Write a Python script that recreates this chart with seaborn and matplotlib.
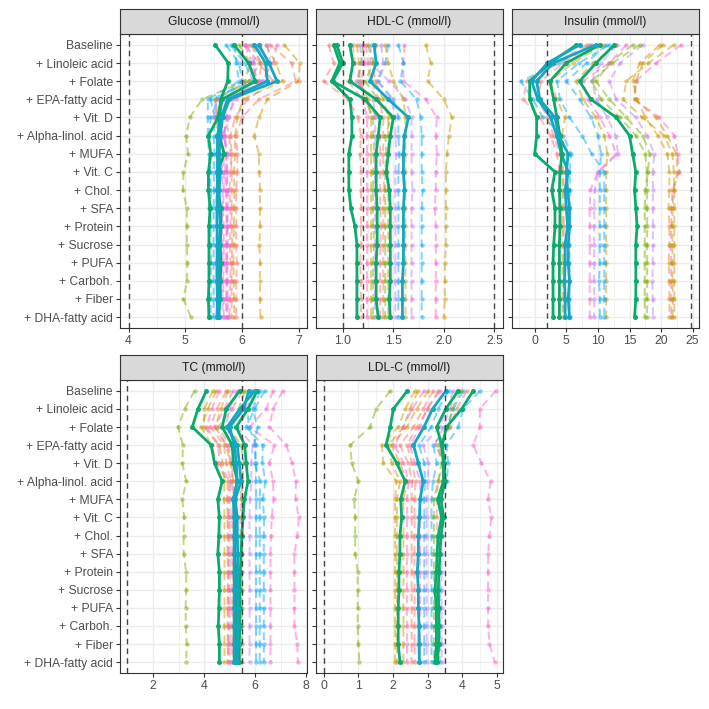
"""Spaghetti plot of five blood markers over cumulative diet additions."""

import matplotlib

matplotlib.use("Agg")
import matplotlib.pyplot as plt
import pandas as pd
import seaborn as sns

ROWS = ["Baseline", "+ Linoleic acid", "+ Folate", "+ EPA-fatty acid", "+ Vit. D",
        "+ Alpha-linol. acid", "+ MUFA", "+ Vit. C", "+ Chol.", "+ SFA", "+ Protein",
        "+ Sucrose", "+ PUFA", "+ Carboh.", "+ Fiber", "+ DHA-fatty acid"]

HUE = ["#F8766D", "#CD9600", "#7CAE00", "#00BE67", "#00BFC4", "#00A9FF", "#C77CFF", "#FF61CC"]
HL_GREEN = "#0AAA6C"
HL_TEAL = "#13A7C2"

# ---- Glucose
GLUCOSE_BG = [
    [5.95, 6.15, 6.05, 5.30, 5.08, 5.02, 5.05, 4.97, 4.96, 5.03, 5.03, 5.03, 5.04, 5.03, 4.97, 5.10],
    [6.75, 7.02, 7.00, 6.45, 6.30, 6.22, 6.30, 6.31, 6.32, 6.32, 6.32, 6.31, 6.32, 6.32, 6.32, 6.33],
    [6.05, 6.30, 6.55, 6.10, 5.88, 5.80, 5.82, 5.80, 5.78, 5.80, 5.80, 5.79, 5.80, 5.80, 5.79, 5.78],
    [6.62, 6.55, 6.35, 5.90, 5.72, 5.70, 5.73, 5.70, 5.72, 5.72, 5.73, 5.72, 5.71, 5.72, 5.72, 5.72],
    [6.10, 6.22, 6.12, 5.55, 5.55, 5.62, 5.60, 5.62, 5.60, 5.62, 5.63, 5.62, 5.62, 5.63, 5.62, 5.62],
    [5.72, 5.95, 6.00, 5.58, 5.45, 5.42, 5.45, 5.44, 5.45, 5.46, 5.45, 5.45, 5.46, 5.45, 5.45, 5.45],
    [5.88, 5.90, 5.95, 5.40, 5.40, 5.40, 5.42, 5.43, 5.42, 5.42, 5.42, 5.42, 5.42, 5.42, 5.42, 5.42],
    [6.42, 6.60, 6.72, 6.02, 5.92, 5.88, 5.88, 5.86, 5.87, 5.86, 5.86, 5.86, 5.85, 5.86, 5.86, 5.87],
    [6.50, 6.88, 6.95, 6.30, 6.00, 5.90, 5.92, 5.92, 5.90, 5.90, 5.90, 5.90, 5.91, 5.90, 5.90, 5.90],
    [6.30, 6.40, 6.45, 5.80, 5.65, 5.66, 5.68, 5.68, 5.68, 5.67, 5.68, 5.68, 5.68, 5.67, 5.68, 5.68],
    [6.20, 6.32, 6.12, 5.52, 5.58, 5.55, 5.58, 5.56, 5.55, 5.56, 5.56, 5.55, 5.56, 5.56, 5.56, 5.56],
    [6.32, 6.20, 6.25, 5.70, 5.75, 5.68, 5.75, 5.73, 5.76, 5.75, 5.75, 5.75, 5.74, 5.75, 5.75, 5.75],
    [6.15, 6.35, 6.30, 5.75, 5.70, 5.78, 5.80, 5.82, 5.82, 5.82, 5.82, 5.83, 5.82, 5.82, 5.82, 5.82],
    [5.80, 6.05, 6.20, 5.45, 5.52, 5.50, 5.52, 5.50, 5.51, 5.50, 5.50, 5.50, 5.50, 5.50, 5.50, 5.50],
    [6.45, 6.50, 6.38, 5.85, 5.78, 5.65, 5.66, 5.65, 5.66, 5.66, 5.65, 5.66, 5.66, 5.65, 5.66, 5.66],
    [6.05, 6.18, 6.28, 5.60, 5.50, 5.70, 5.72, 5.74, 5.73, 5.74, 5.74, 5.74, 5.74, 5.74, 5.74, 5.74],
]
GLUCOSE_BG_COLORS = [2, 1, 0, 7, 6, 5, 5, 1, 0, 7, 2, 6, 0, 5, 6, 7]
GLUCOSE_HL = [
    [5.53, 5.76, 5.75, 5.63, 5.58, 5.41, 5.45, 5.41, 5.41, 5.44, 5.42, 5.42, 5.42, 5.42, 5.41, 5.42],
    [5.86, 6.12, 6.24, 5.65, 5.60, 5.60, 5.69, 5.57, 5.58, 5.63, 5.63, 5.62, 5.63, 5.62, 5.62, 5.58],
    [6.22, 6.42, 6.45, 5.75, 5.63, 5.57, 5.57, 5.57, 5.57, 5.56, 5.56, 5.57, 5.56, 5.56, 5.57, 5.56],
    [6.30, 6.48, 6.62, 5.78, 5.66, 5.62, 5.60, 5.62, 5.60, 5.60, 5.62, 5.60, 5.60, 5.60, 5.60, 5.60],
]
GLUCOSE_HL_COLORS = [HL_GREEN, HL_GREEN, HL_TEAL, HL_TEAL]
GLUCOSE_REFS = [4.0, 6.0]

# ---- HDL-C
HDL_BG = [
    [0.86, 0.91, 0.81, 1.05, 1.15, 1.18, 1.17, 1.18, 1.18, 1.18, 1.18, 1.18, 1.17, 1.18, 1.18, 1.18],
    [1.82, 1.87, 1.84, 2.00, 2.08, 2.05, 2.03, 2.02, 2.02, 2.02, 2.02, 2.02, 2.01, 2.01, 2.01, 2.00],
    [1.61, 1.60, 1.60, 1.82, 1.93, 1.92, 1.93, 1.92, 1.92, 1.91, 1.92, 1.92, 1.92, 1.92, 1.92, 1.92],
    [1.55, 1.60, 1.57, 1.73, 1.77, 1.78, 1.78, 1.78, 1.79, 1.78, 1.78, 1.78, 1.78, 1.78, 1.78, 1.78],
    [1.45, 1.42, 1.35, 1.50, 1.55, 1.55, 1.56, 1.55, 1.55, 1.55, 1.55, 1.55, 1.55, 1.55, 1.55, 1.55],
    [1.28, 1.27, 1.46, 1.62, 1.68, 1.68, 1.68, 1.68, 1.69, 1.68, 1.68, 1.68, 1.68, 1.68, 1.68, 1.68],
    [1.14, 1.16, 1.17, 1.25, 1.28, 1.28, 1.28, 1.28, 1.28, 1.28, 1.28, 1.28, 1.28, 1.28, 1.28, 1.28],
    [1.20, 1.18, 1.15, 1.22, 1.30, 1.30, 1.31, 1.30, 1.30, 1.30, 1.30, 1.31, 1.30, 1.30, 1.30, 1.30],
    [1.23, 1.25, 1.28, 1.36, 1.40, 1.40, 1.40, 1.40, 1.41, 1.40, 1.40, 1.40, 1.40, 1.40, 1.40, 1.40],
    [1.33, 1.30, 1.32, 1.40, 1.45, 1.45, 1.45, 1.44, 1.45, 1.45, 1.45, 1.45, 1.45, 1.45, 1.45, 1.45],
    [1.20, 1.22, 1.18, 1.20, 1.24, 1.24, 1.24, 1.24, 1.24, 1.24, 1.24, 1.24, 1.24, 1.24, 1.24, 1.24],
    [1.38, 1.40, 1.34, 1.48, 1.52, 1.52, 1.53, 1.52, 1.52, 1.52, 1.52, 1.52, 1.52, 1.52, 1.52, 1.52],
    [1.10, 1.12, 1.05, 1.20, 1.35, 1.37, 1.37, 1.37, 1.37, 1.37, 1.38, 1.37, 1.37, 1.37, 1.37, 1.37],
    [1.25, 1.30, 1.22, 1.35, 1.48, 1.42, 1.43, 1.42, 1.42, 1.42, 1.42, 1.42, 1.42, 1.42, 1.42, 1.42],
    [1.42, 1.45, 1.50, 1.60, 1.62, 1.62, 1.62, 1.62, 1.62, 1.62, 1.62, 1.62, 1.62, 1.62, 1.62, 1.62],
    [1.17, 1.19, 1.13, 1.30, 1.32, 1.32, 1.32, 1.32, 1.32, 1.32, 1.32, 1.32, 1.32, 1.32, 1.32, 1.32],
]
HDL_BG_COLORS = [0, 1, 7, 5, 5, 6, 1, 2, 0, 1, 7, 6, 0, 2, 1, 6]
HDL_HL = [
    [0.91, 0.97, 0.89, 1.07, 1.09, 1.09, 1.06, 1.06, 1.06, 1.08, 1.12, 1.14, 1.14, 1.14, 1.14, 1.14],
    [0.94, 1.00, 0.90, 1.22, 1.37, 1.35, 1.33, 1.33, 1.33, 1.34, 1.34, 1.34, 1.33, 1.33, 1.33, 1.35],
    [1.07, 1.10, 1.07, 1.33, 1.50, 1.47, 1.45, 1.43, 1.46, 1.47, 1.47, 1.47, 1.47, 1.47, 1.46, 1.47],
    [1.31, 1.33, 1.27, 1.45, 1.65, 1.61, 1.60, 1.60, 1.61, 1.60, 1.60, 1.60, 1.60, 1.59, 1.59, 1.59],
]
HDL_HL_COLORS = [HL_GREEN, HL_GREEN, HL_GREEN, HL_TEAL]
HDL_REFS = [1.0, 1.2, 2.5]

# ---- Insulin
INSULIN_BG = [
    [23.2, 19.2, 16.0, 15.8, 19.7, 22.1, 22.6, 22.9, 21.8, 21.6, 21.6, 21.5, 21.6, 21.6, 21.6, 21.6],
    [20.3, 17.1, 16.0, 15.8, 19.2, 21.0, 22.4, 22.6, 22.0, 21.8, 21.8, 21.8, 21.8, 21.8, 21.9, 21.8],
    [19.8, 16.6, 15.5, 16.2, 17.5, 19.5, 21.0, 21.3, 21.3, 21.2, 21.3, 21.3, 21.2, 21.3, 21.3, 21.3],
    [15.5, 11.8, 9.7, 11.8, 14.5, 17.1, 18.2, 17.9, 17.5, 17.4, 17.4, 17.4, 17.4, 17.4, 17.4, 17.4],
    [17.1, 13.5, 11.8, 12.9, 16.0, 17.8, 18.9, 18.7, 18.7, 18.7, 18.7, 18.7, 18.7, 18.6, 18.7, 18.7],
    [14.5, 11.8, 7.6, 8.4, 10.3, 11.8, 12.9, 10.0, 8.8, 8.7, 8.7, 8.7, 8.7, 8.7, 8.7, 8.7],
    [11.3, 8.2, 5.0, 7.1, 8.9, 10.0, 10.5, 10.3, 10.3, 10.3, 10.3, 10.3, 10.3, 10.2, 10.3, 10.3],
    [8.7, 3.9, -2.2, -0.3, 1.3, 4.5, 5.8, 5.5, 5.6, 5.5, 5.5, 5.5, 5.5, 5.5, 5.5, 5.6],
    [8.2, 3.4, -1.3, -1.8, 0.8, 2.5, 3.5, 3.9, 3.9, 3.9, 3.9, 3.9, 3.9, 3.8, 3.9, 3.9],
    [12.9, 9.2, 6.6, 7.6, 9.7, 11.0, 11.5, 11.3, 11.3, 11.3, 11.3, 11.3, 11.3, 11.3, 11.3, 11.3],
    [13.0, 10.5, 9.0, 9.8, 11.5, 12.8, 13.2, 10.0, 9.5, 9.4, 9.4, 9.4, 9.4, 9.4, 9.4, 9.4],
    [10.8, 6.0, 2.5, 3.5, 4.8, 4.3, 4.5, 4.4, 4.4, 4.4, 4.4, 4.4, 4.4, 4.4, 4.4, 4.4],
    [9.0, 4.5, 1.0, 0.5, 2.0, 3.0, 4.0, 4.5, 4.6, 4.6, 4.6, 4.6, 4.6, 4.6, 4.6, 4.6],
    [11.8, 7.0, 3.5, 4.0, 5.5, 7.5, 9.0, 11.0, 11.0, 11.0, 11.0, 11.0, 11.0, 11.0, 11.0, 11.0],
    [16.6, 12.3, 9.0, 10.5, 13.5, 16.0, 17.5, 17.8, 17.8, 17.8, 17.8, 17.8, 17.8, 17.8, 17.8, 17.8],
    [22.0, 18.0, 14.5, 14.0, 17.0, 20.5, 21.8, 22.0, 22.1, 22.1, 22.1, 22.1, 22.1, 22.1, 22.1, 22.1],
]
INSULIN_BG_COLORS = [7, 1, 1, 2, 6, 7, 5, 5, 0, 1, 6, 1, 0, 5, 2, 1]
INSULIN_HL = [
    [6.6, 2.4, -0.8, -0.8, 0.3, 0.3, 0.0, 3.2, 2.7, 3.2, 3.2, 3.0, 2.9, 2.9, 2.9, 2.9],
    [7.1, 2.0, -0.5, 0.5, 2.5, 3.5, 4.2, 5.3, 4.8, 5.0, 5.2, 4.8, 4.8, 4.7, 4.8, 4.8],
    [10.3, 5.0, 2.4, 3.0, 3.5, 4.0, 4.3, 4.0, 3.9, 4.0, 4.0, 3.9, 3.9, 3.9, 3.9, 3.9],
    [9.7, 2.9, 0.3, 0.8, 3.2, 3.8, 5.3, 5.0, 5.2, 5.5, 5.5, 5.3, 5.3, 5.5, 5.3, 5.5],
    [12.6, 9.7, 7.1, 8.9, 12.9, 15.0, 15.5, 16.0, 15.8, 16.0, 16.2, 16.0, 16.0, 16.0, 16.0, 15.8],
]
INSULIN_HL_COLORS = [HL_GREEN, HL_TEAL, HL_GREEN, HL_TEAL, HL_GREEN]
INSULIN_REFS = [2.0, 24.7]

# ---- TC
TC_BG = [
    [3.63, 3.24, 2.98, 3.17, 3.15, 3.30, 3.15, 3.22, 3.20, 3.20, 3.30, 3.30, 3.28, 3.28, 3.32, 3.30],
    [7.08, 6.70, 6.56, 7.22, 7.45, 7.60, 7.58, 7.71, 7.65, 7.54, 7.54, 7.54, 7.54, 7.54, 7.65, 7.67],
    [6.70, 6.43, 5.78, 6.75, 6.56, 6.70, 6.72, 6.65, 6.62, 6.60, 6.60, 6.60, 6.60, 6.60, 6.60, 6.60],
    [6.37, 5.98, 5.65, 6.30, 6.28, 6.40, 6.30, 6.35, 6.34, 6.34, 6.34, 6.34, 6.34, 6.34, 6.34, 6.34],
    [6.20, 5.90, 6.10, 5.95, 6.05, 6.02, 6.05, 6.04, 6.04, 6.04, 6.04, 6.04, 6.04, 6.04, 6.04, 6.04],
    [5.85, 5.60, 5.30, 5.90, 5.85, 5.85, 5.80, 5.78, 5.78, 5.78, 5.78, 5.78, 5.78, 5.78, 5.78, 5.78],
    [4.48, 4.15, 3.89, 4.30, 4.48, 4.93, 4.90, 4.92, 4.92, 4.92, 4.93, 4.93, 4.92, 4.92, 4.93, 4.92],
    [4.87, 4.50, 4.25, 4.78, 4.87, 5.05, 5.00, 5.00, 5.00, 5.00, 5.00, 5.00, 5.00, 5.00, 5.00, 5.00],
    [4.35, 4.00, 4.00, 4.60, 4.72, 4.80, 4.78, 4.80, 4.80, 4.80, 4.80, 4.80, 4.80, 4.80, 4.80, 4.80],
    [5.13, 4.80, 4.40, 4.90, 5.10, 5.10, 5.12, 5.10, 5.10, 5.10, 5.10, 5.10, 5.10, 5.10, 5.10, 5.10],
    [5.50, 5.10, 4.55, 5.00, 5.00, 5.40, 5.45, 5.42, 5.42, 5.42, 5.42, 5.42, 5.42, 5.42, 5.42, 5.42],
    [5.92, 5.70, 5.75, 6.05, 5.98, 6.20, 6.18, 6.18, 6.18, 6.18, 6.18, 6.18, 6.18, 6.18, 6.18, 6.18],
    [4.60, 4.30, 4.10, 4.55, 4.60, 5.00, 4.95, 4.95, 4.95, 4.95, 4.95, 4.95, 4.95, 4.95, 4.95, 4.95],
    [5.30, 5.00, 4.85, 5.25, 5.30, 5.25, 5.25, 5.25, 5.25, 5.25, 5.25, 5.25, 5.25, 5.25, 5.25, 5.25],
    [5.60, 5.35, 4.95, 5.45, 5.55, 5.50, 5.48, 5.48, 5.48, 5.48, 5.48, 5.48, 5.48, 5.48, 5.48, 5.48],
    [4.95, 4.65, 4.45, 4.85, 5.05, 5.15, 5.15, 5.15, 5.15, 5.15, 5.15, 5.15, 5.15, 5.15, 5.15, 5.15],
]
TC_BG_COLORS = [2, 7, 7, 5, 5, 6, 1, 0, 1, 7, 0, 5, 7, 6, 2, 1]
TC_HL = [
    [4.09, 3.76, 3.54, 4.28, 4.41, 4.71, 4.54, 4.60, 4.58, 4.54, 4.60, 4.60, 4.58, 4.56, 4.60, 4.60],
    [5.39, 4.87, 4.71, 5.10, 5.15, 5.30, 5.15, 5.22, 5.22, 5.20, 5.25, 5.25, 5.24, 5.24, 5.25, 5.26],
    [6.08, 5.72, 5.26, 5.59, 5.65, 5.72, 5.58, 5.52, 5.48, 5.45, 5.42, 5.40, 5.40, 5.40, 5.38, 5.38],
    [5.98, 5.40, 4.90, 5.30, 5.38, 5.45, 5.22, 5.30, 5.30, 5.32, 5.32, 5.32, 5.33, 5.33, 5.32, 5.30],
    [5.75, 5.55, 5.00, 5.18, 5.26, 5.30, 5.15, 5.18, 5.18, 5.18, 5.18, 5.18, 5.18, 5.18, 5.18, 5.18],
]
TC_HL_COLORS = [HL_GREEN, HL_GREEN, HL_GREEN, HL_TEAL, HL_TEAL]
TC_REFS = [1.0, 5.5]

# ---- LDL-C
LDL_BG = [
    [1.92, 1.51, 1.34, 0.77, 0.81, 1.00, 0.88, 0.91, 0.91, 0.91, 0.98, 0.98, 0.98, 0.98, 1.00, 1.03],
    [4.96, 4.50, 4.50, 4.31, 4.55, 4.81, 4.74, 4.83, 4.78, 4.74, 4.74, 4.74, 4.74, 4.74, 4.78, 4.93],
    [2.63, 2.35, 2.15, 1.68, 1.72, 2.10, 2.06, 2.06, 2.06, 2.06, 2.06, 2.06, 2.06, 2.06, 2.06, 2.06],
    [3.02, 2.68, 2.40, 1.96, 2.20, 2.40, 2.30, 2.30, 2.30, 2.30, 2.30, 2.30, 2.30, 2.30, 2.30, 2.30],
    [3.16, 2.87, 2.59, 2.20, 2.44, 2.55, 2.54, 2.54, 2.54, 2.54, 2.54, 2.54, 2.54, 2.54, 2.54, 2.54],
    [3.35, 2.97, 2.78, 2.49, 2.63, 2.78, 2.78, 2.78, 2.78, 2.78, 2.78, 2.78, 2.78, 2.78, 2.78, 2.78],
    [3.74, 3.55, 3.35, 2.87, 3.02, 3.00, 2.97, 2.97, 2.97, 2.97, 2.97, 2.97, 2.97, 2.97, 2.97, 2.97],
    [4.02, 3.74, 3.55, 3.16, 3.26, 3.15, 3.11, 3.11, 3.11, 3.11, 3.11, 3.11, 3.11, 3.11, 3.11, 3.11],
    [4.50, 4.02, 3.88, 3.54, 3.59, 3.55, 3.35, 3.45, 3.40, 3.35, 3.35, 3.35, 3.35, 3.35, 3.35, 3.35],
    [2.72, 2.49, 2.30, 1.87, 1.96, 2.20, 2.11, 2.11, 2.11, 2.11, 2.11, 2.11, 2.11, 2.11, 2.11, 2.11],
    [4.12, 3.83, 3.64, 3.35, 3.45, 3.30, 3.26, 3.26, 3.26, 3.26, 3.26, 3.26, 3.26, 3.26, 3.26, 3.26],
    [3.83, 3.64, 3.45, 3.21, 3.50, 3.45, 3.40, 3.40, 3.40, 3.40, 3.40, 3.40, 3.40, 3.40, 3.40, 3.40],
    [2.90, 2.55, 2.30, 2.05, 2.30, 2.45, 2.40, 2.40, 2.40, 2.40, 2.40, 2.40, 2.40, 2.40, 2.40, 2.40],
    [3.60, 3.30, 3.10, 2.75, 2.90, 2.92, 2.90, 2.90, 2.90, 2.90, 2.90, 2.90, 2.90, 2.90, 2.90, 2.90],
    [3.95, 3.70, 3.60, 3.30, 3.40, 3.30, 3.18, 3.18, 3.18, 3.18, 3.18, 3.18, 3.18, 3.18, 3.18, 3.18],
    [3.30, 3.00, 2.70, 2.40, 2.55, 2.65, 2.62, 2.62, 2.62, 2.62, 2.62, 2.62, 2.62, 2.62, 2.62, 2.62],
]
LDL_BG_COLORS = [2, 7, 1, 1, 0, 7, 6, 5, 5, 1, 0, 6, 7, 5, 2, 0]
LDL_HL = [
    [2.41, 2.01, 1.92, 1.80, 2.11, 2.35, 2.22, 2.25, 2.20, 2.20, 2.17, 2.17, 2.15, 2.15, 2.15, 2.20],
    [3.52, 3.14, 2.89, 2.59, 2.73, 2.87, 2.78, 2.76, 2.73, 2.73, 2.70, 2.73, 2.73, 2.75, 2.75, 2.76],
    [3.88, 3.52, 3.26, 3.40, 3.45, 3.45, 3.29, 3.40, 3.30, 3.27, 3.25, 3.21, 3.25, 3.25, 3.25, 3.21],
    [4.31, 3.98, 3.54, 3.42, 3.48, 3.50, 3.38, 3.46, 3.38, 3.35, 3.33, 3.30, 3.32, 3.32, 3.32, 3.28],
]
LDL_HL_COLORS = [HL_GREEN, HL_TEAL, HL_GREEN, HL_GREEN]
LDL_REFS = [0.0, 3.5]

PANELS = [
    # title, bg, bg colours, highlighted, hl colours, refs, xlim, major, minor, rect (px)
    ("Glucose (mmol/l)", GLUCOSE_BG, GLUCOSE_BG_COLORS, GLUCOSE_HL, GLUCOSE_HL_COLORS, GLUCOSE_REFS,
     (3.85, 7.15), [4, 5, 6, 7], [4.5, 5.5, 6.5], (120, 9, 307, 328)),
    ("HDL-C (mmol/l)", HDL_BG, HDL_BG_COLORS, HDL_HL, HDL_HL_COLORS, HDL_REFS,
     (0.735, 2.585), [1.0, 1.5, 2.0, 2.5], [0.75, 1.25, 1.75, 2.25], (316, 9, 503, 328)),
    ("Insulin (mmol/l)", INSULIN_BG, INSULIN_BG_COLORS, INSULIN_HL, INSULIN_HL_COLORS, INSULIN_REFS,
     (-3.6, 26.0), [0, 5, 10, 15, 20, 25], [-2.5, 2.5, 7.5, 12.5, 17.5, 22.5], (512, 9, 699, 328)),
    ("TC (mmol/l)", TC_BG, TC_BG_COLORS, TC_HL, TC_HL_COLORS, TC_REFS,
     (0.71, 8.03), [2, 4, 6, 8], [1, 3, 5, 7], (120, 355, 307, 673)),
    ("LDL-C (mmol/l)", LDL_BG, LDL_BG_COLORS, LDL_HL, LDL_HL_COLORS, LDL_REFS,
     (-0.22, 5.17), [0, 1, 2, 3, 4, 5], [0.5, 1.5, 2.5, 3.5, 4.5], (316, 355, 503, 673)),
]

W = H = 709
STRIP_H = 25


def long_frame(lines, colors):
    records = []
    for i, values in enumerate(lines):
        for r, v in enumerate(values):
            records.append({"line": f"l{i}", "row": r, "value": v})
    palette = {f"l{i}": c for i, c in enumerate(colors)}
    return pd.DataFrame(records), palette


def main():
    sns.set_theme(style="white")
    plt.rcParams["font.family"] = ["Liberation Sans", "DejaVu Sans"]
    fig = plt.figure(figsize=(W / 100, H / 100), dpi=100)

    for idx, (title, bg, bg_cols, hl, hl_cols, refs, xlim, major, minor, rect) in enumerate(PANELS):
        x0, y0, x1, y1 = rect
        top = y0 + STRIP_H
        ax = fig.add_axes([x0 / W, 1 - y1 / H, (x1 - x0) / W, (y1 - top) / H])
        sax = fig.add_axes([x0 / W, 1 - top / H, (x1 - x0) / W, STRIP_H / H])

        bg_df, bg_pal = long_frame(bg, [HUE[c] for c in bg_cols])
        sns.lineplot(data=bg_df, x="value", y="row", hue="line", palette=bg_pal, units="line",
                     estimator=None, sort=False, legend=False, ax=ax, linewidth=1.4,
                     linestyle=(0, (4, 2.5)), alpha=0.5, marker="o", markersize=3.2,
                     markeredgewidth=0)
        hl_df, hl_pal = long_frame(hl, hl_cols)
        sns.lineplot(data=hl_df, x="value", y="row", hue="line", palette=hl_pal, units="line",
                     estimator=None, sort=False, legend=False, ax=ax, linewidth=2.0,
                     marker="o", markersize=3.6, markeredgewidth=0)
        for ref in refs:
            ax.axvline(ref, color="#444444", linewidth=1.0, linestyle=(0, (4, 3)), zorder=5)

        ax.set_xlim(*xlim)
        ax.set_ylim(15.6, -0.6)
        ax.set_xticks(major)
        ax.set_xticks(minor, minor=True)
        ax.set_yticks(range(len(ROWS)))
        if idx in (0, 3):
            ax.set_yticklabels(ROWS)
        else:
            ax.set_yticklabels([])
        ax.set_xlabel("")
        ax.set_ylabel("")
        ax.set_axisbelow(True)
        ax.grid(which="major", color="#EBEBEB", linewidth=1.0)
        ax.grid(which="minor", axis="x", color="#EBEBEB", linewidth=0.5)
        ax.tick_params(which="major", length=3, width=0.8, color="#333333",
                       labelcolor="#4D4D4D", labelsize=8.7, pad=2, bottom=True, left=True)
        ax.tick_params(which="minor", length=0)
        for sp in ax.spines.values():
            sp.set_color("#333333")
            sp.set_linewidth(0.8)

        sax.set_facecolor("#D9D9D9")
        sax.set_xticks([])
        sax.set_yticks([])
        for sp in sax.spines.values():
            sp.set_color("#333333")
            sp.set_linewidth(0.8)
        sax.text(0.5, 0.5, title, ha="center", va="center", fontsize=8.7, color="#1A1A1A",
                 transform=sax.transAxes)

    fig.savefig("out.png", dpi=100, facecolor="white")
    plt.close(fig)


if __name__ == "__main__":
    main()
